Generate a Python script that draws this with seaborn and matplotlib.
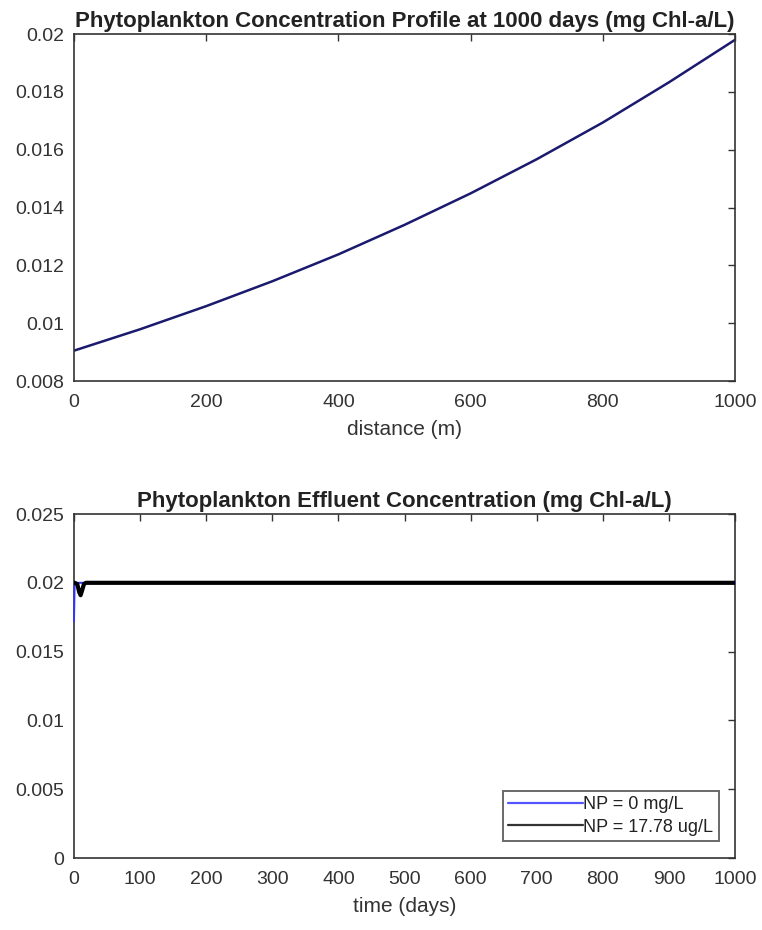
import matplotlib
matplotlib.use("Agg")
import matplotlib.pyplot as plt
import seaborn as sns
import pandas as pd
from matplotlib.lines import Line2D

# Top panel: profile at 1000 days
distance_m = [0, 100, 200, 300, 400, 500, 600, 700, 800, 900, 1000]
phyto_profile = [0.00905, 0.00979, 0.01059, 0.01145, 0.01238, 0.01340,
                 0.01449, 0.01567, 0.01694, 0.01833, 0.01980]

# Bottom panel: effluent concentration over time
time_days = [0, 1, 5, 8, 10, 12, 15, 18, 25, 50, 100, 200, 300, 400, 500,
             600, 700, 800, 900, 1000]
np0_effluent = [0.0172, 0.0200, 0.0200, 0.0200, 0.0200, 0.0200, 0.0200, 0.0200,
                0.0200, 0.0200, 0.0200, 0.0200, 0.0200, 0.0200, 0.0200,
                0.0200, 0.0200, 0.0200, 0.0200, 0.0200]
np1778_effluent = [0.0200, 0.0200, 0.0199, 0.0193, 0.0191, 0.0194, 0.0199, 0.0200,
                   0.0200, 0.0200, 0.0200, 0.0200, 0.0200, 0.0200, 0.0200,
                   0.0200, 0.0200, 0.0200, 0.0200, 0.0200]
legend_labels = ["NP = 0 mg/L", "NP = 17.78 ug/L"]

sns.set_style("white")
plt.rcParams['font.family'] = ['Liberation Sans', 'DejaVu Sans']

fig = plt.figure(figsize=(7.62, 9.3), dpi=100)
ax1 = fig.add_axes([0.0971, 0.5903, 0.8675, 0.3731])
ax2 = fig.add_axes([0.0971, 0.0774, 0.8675, 0.3699])

axcol = '#333333'
txtcol = '#333333'
for ax in (ax1, ax2):
    for s in ax.spines.values():
        s.set_color(axcol)
        s.set_linewidth(1.2)
    ax.tick_params(direction='in', length=5, width=1, color=axcol,
                   top=True, right=True, labelsize=14, labelcolor=txtcol)
    ax.tick_params(axis='x', pad=9)
    ax.tick_params(axis='y', pad=7)

df1 = pd.DataFrame({'distance': distance_m, 'phyto': phyto_profile})
sns.lineplot(data=df1, x='distance', y='phyto', ax=ax1, color='#1a1a6e', linewidth=1.8)
ax1.set_xlim(0, 1000)
ax1.set_ylim(0.008, 0.02)
ax1.set_xticks([0, 200, 400, 600, 800, 1000])
ax1.set_yticks([0.008, 0.01, 0.012, 0.014, 0.016, 0.018, 0.02])
ax1.set_yticklabels(['0.008', '0.01', '0.012', '0.014', '0.016', '0.018', '0.02'])
ax1.set_xlabel('distance (m)', fontsize=15, labelpad=7, color=txtcol)
ax1.set_ylabel('')
ax1.set_title('Phytoplankton Concentration Profile at 1000 days (mg Chl-a/L)',
              fontsize=16, fontweight='bold', pad=5, color='#222222')

df2 = pd.DataFrame({
    'time': time_days * 2,
    'conc': np0_effluent + np1778_effluent,
    'case': [legend_labels[0]] * len(time_days) + [legend_labels[1]] * len(time_days),
})
sns.lineplot(data=df2, x='time', y='conc', hue='case', ax=ax2,
             palette={legend_labels[0]: '#3333ff', legend_labels[1]: '#000000'},
             linewidth=1.2, sort=False, legend=False)
lines = ax2.get_lines()
lines[0].set_linewidth(1.4)
lines[0].set_zorder(3)
lines[0].set_clip_on(False)
lines[1].set_linewidth(3.0)
lines[1].set_zorder(3.5)
ax2.set_xlim(0, 1000)
ax2.set_ylim(0, 0.025)
ax2.set_xticks(list(range(0, 1001, 100)))
ax2.set_yticks([0, 0.005, 0.01, 0.015, 0.02, 0.025])
ax2.set_yticklabels(['0', '0.005', '0.01', '0.015', '0.02', '0.025'])
ax2.set_xlabel('time (days)', fontsize=15, labelpad=7, color=txtcol)
ax2.set_ylabel('')
ax2.set_title('Phytoplankton Effluent Concentration (mg Chl-a/L)',
              fontsize=16, fontweight='bold', pad=5, color='#222222')

handles = [Line2D([], [], color='#5555ff', lw=1.6), Line2D([], [], color='#333333', lw=1.6)]
leg = ax2.legend(handles, legend_labels, loc='lower right', fontsize=13,
                 handlelength=4.1, handletextpad=0.05, borderpad=0.3, labelspacing=0.3,
                 borderaxespad=0, frameon=True, fancybox=False, edgecolor='#444444',
                 bbox_to_anchor=(0.9755, 0.0494))
leg.get_frame().set_linewidth(1.4)
for t in leg.get_texts():
    t.set_color('#222222')

fig.savefig('out.png', dpi=100, facecolor='white')
